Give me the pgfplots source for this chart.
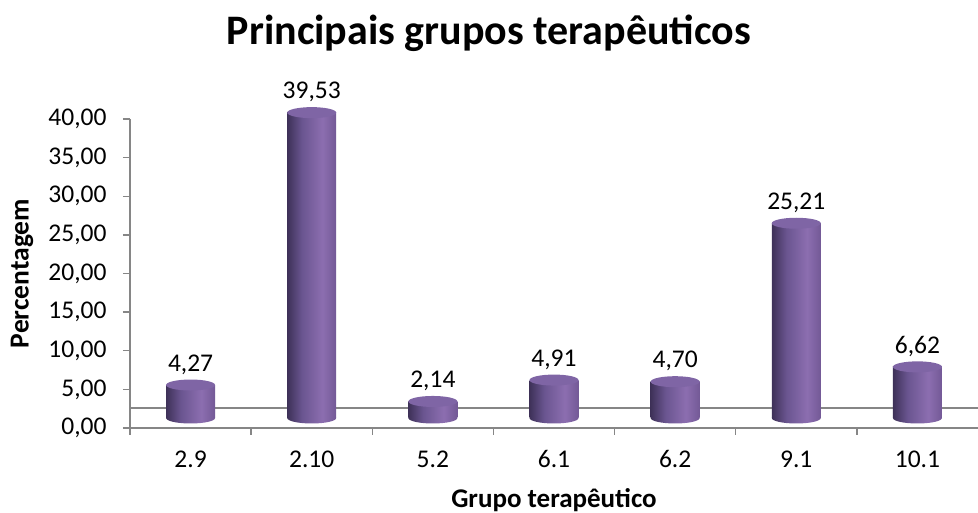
\documentclass[border=0pt]{standalone}
\usepackage{pgfplots}
\pgfplotsset{compat=1.18}
\usepackage{fontspec}
\setmainfont{Carlito}
\definecolor{cylA}{HTML}{3E3158}
\definecolor{cylM}{HTML}{6A5590}
\definecolor{cylB}{HTML}{8C6EB0}
\definecolor{cylC}{HTML}{735996}
\definecolor{cylT}{HTML}{7F65A5}
\definecolor{axgray}{HTML}{868686}
\pgfdeclarehorizontalshading{cyl}{100bp}{color(0bp)=(cylA); color(25bp)=(cylA); color(40bp)=(cylM); color(61bp)=(cylB); color(75bp)=(cylC); color(100bp)=(cylC)}
\pgfdeclareplotmark{cyltop}{\pgfpathellipse{\pgfpointorigin}{\pgfpoint{24.5pt}{0pt}}{\pgfpoint{0pt}{5.5pt}}\pgfusepathqfill}
\pgfdeclareplotmark{cylbot}{\pgfpathellipse{\pgfpointorigin}{\pgfpoint{24.5pt}{0pt}}{\pgfpoint{0pt}{5.5pt}}\pgfshadepath{cyl}{0}\pgfusepath{discard}}
\pgfplotstableread{
x y
0 4.27
1 39.53
2 2.14
3 4.91
4 4.70
5 25.21
6 6.62
}\datatable
\begin{document}
\begin{tikzpicture}
\begin{axis}[
  at={(0pt,0pt)}, anchor=south west,
  scale only axis, width=848pt, height=309pt,
  xmin=-0.5, xmax=6.5, ymin=0, ymax=40,
  clip=false,
  axis lines*=left,
  axis line style={axgray, line width=1.4pt},
  ytick={0,5,...,40},
  xtick={0,...,6},
  xticklabels={2.9,2.10,5.2,6.1,6.2,9.1,10.1},
  minor xtick={-0.5,0.5,1.5,2.5,3.5,4.5,5.5},
  major x tick style={draw=none},
  tick align=outside,
  major tick length=7pt, minor tick length=7pt,
  tick style={axgray, line width=1.4pt},
  ticklabel style={font=\fontsize{25.5}{31}\selectfont, text=black},
  yticklabel style={xshift=-13pt},
  xticklabel style={yshift=-12pt},
  /pgf/number format/.cd, use comma, fixed, fixed zerofill, precision=2, assume math mode=true, /pgfplots/.cd,
  title={Principais grupos terapêuticos},
  title style={font=\fontsize{42}{50}\bfseries, at={(0.4233,1.223)}, anchor=base},
  ylabel={Percentagem},
  ylabel style={font=\fontsize{27.5}{31}\bfseries, at={(-0.1274,0.5)}, anchor=center, rotate=0},
  xlabel={Grupo terapêutico},
  xlabel style={font=\fontsize{27}{31}\bfseries, at={(0.5,-0.2589)}, anchor=base},
]
\addplot[axgray, line width=1.4pt, forget plot] coordinates {(-0.5,2.6) (6.5,2.6)};
\addplot[only marks, mark=cylbot, yshift=10pt] coordinates {(0,0) (1,0) (2,0) (3,0) (4,0) (5,0) (6,0)};
\addplot[ybar, bar shift=0pt, bar width=49pt, draw=none, shade, shading=cyl, yshift=10pt] coordinates {(0,4.27)};
\addplot[ybar, bar shift=0pt, bar width=49pt, draw=none, shade, shading=cyl, yshift=10pt] coordinates {(1,39.53)};
\addplot[ybar, bar shift=0pt, bar width=49pt, draw=none, shade, shading=cyl, yshift=10pt] coordinates {(2,2.14)};
\addplot[ybar, bar shift=0pt, bar width=49pt, draw=none, shade, shading=cyl, yshift=10pt] coordinates {(3,4.91)};
\addplot[ybar, bar shift=0pt, bar width=49pt, draw=none, shade, shading=cyl, yshift=10pt] coordinates {(4,4.70)};
\addplot[ybar, bar shift=0pt, bar width=49pt, draw=none, shade, shading=cyl, yshift=10pt] coordinates {(5,25.21)};
\addplot[ybar, bar shift=0pt, bar width=49pt, draw=none, shade, shading=cyl, yshift=10pt] coordinates {(6,6.62)};
\addplot[only marks, mark=cyltop, mark options={fill=cylT, draw=none}, yshift=10pt,
  nodes near coords,
  every node near coord/.append style={font=\fontsize{25.5}{31}\selectfont, text=black, yshift=7pt}]
  table[x=x, y=y] {\datatable};
\end{axis}
\pgfresetboundingbox
\path[use as bounding box] (-130pt,-85pt) rectangle (848pt,428pt);
\end{tikzpicture}
\end{document}
